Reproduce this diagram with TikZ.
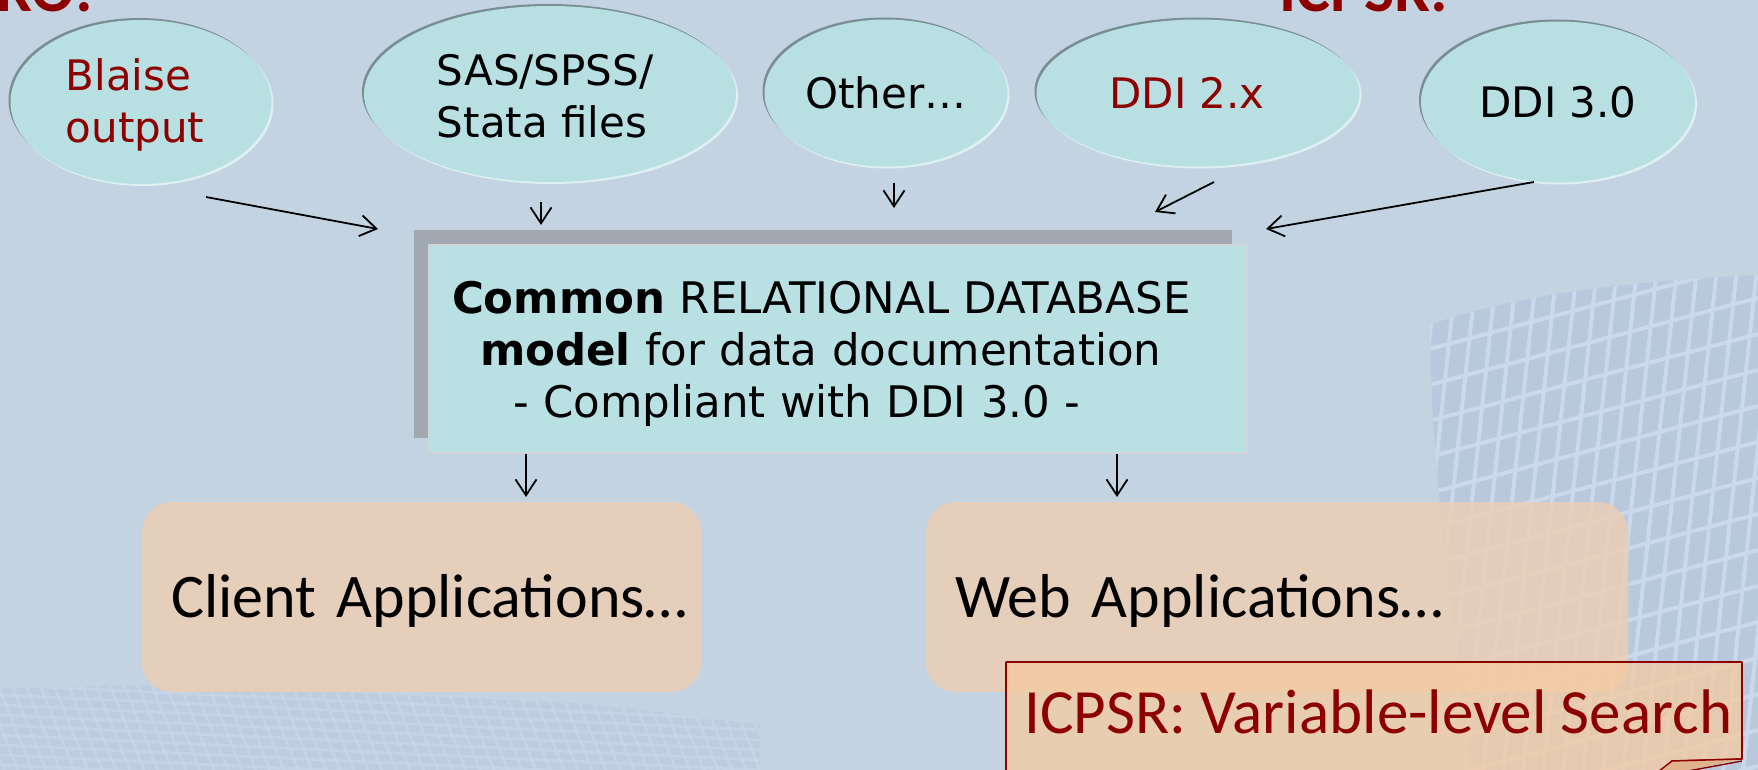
\documentclass[tikz,border=0pt]{standalone}
\usepackage{fontspec}
\newfontfamily\verd{DejaVu Sans}
\newfontfamily\calib{Carlito}
\usetikzlibrary{shapes.geometric,arrows.meta,shadows,calc}
\definecolor{bgblue}{RGB}{196,211,226}
\definecolor{meshdark}{RGB}{184,200,221}
\definecolor{meshline}{RGB}{203,217,234}
\definecolor{bubblefill}{RGB}{184,224,227}
\definecolor{edgedark}{RGB}{120,142,148}
\definecolor{edgelight}{RGB}{222,240,242}
\definecolor{boxcyan}{RGB}{185,224,227}
\definecolor{boxedge}{RGB}{208,214,216}
\definecolor{shadowgray}{RGB}{162,168,176}
\definecolor{peach}{RGB}{235,206,180}
\definecolor{calloutfill}{RGB}{246,203,160}
\definecolor{flapfill}{RGB}{226,178,140}
\definecolor{darkred}{RGB}{140,0,0}
\tikzset{
  bubble/.style={ellipse, fill=bubblefill, inner sep=0pt, align=left,
    font=\verd\fontsize{42}{52}\selectfont,
    drop shadow={shadow xshift=-2pt, shadow yshift=2pt, fill=edgedark, opacity=1},
    drop shadow={shadow xshift=2pt, shadow yshift=-2pt, fill=edgelight, opacity=1}},
  dbbox/.style={rectangle, fill=boxcyan, draw=boxedge, line width=1.5pt,
    minimum width=818pt, minimum height=208pt, inner xsep=23pt, inner ysep=0pt,
    text width=772pt, align=left, font=\verd\fontsize{43.5}{52}\selectfont,
    drop shadow={shadow xshift=-15pt, shadow yshift=15pt, fill=shadowgray, opacity=1}},
  appbox/.style={rectangle, rounded corners=30pt, fill=peach, fill opacity=0.85,
    text opacity=1, inner xsep=0pt, inner ysep=0pt, minimum height=190pt,
    text height=50pt, text depth=10pt,
    align=left, font=\calib\fontsize{62}{70}\selectfont},
  arr/.style={-{Straight Barb[length=16pt,width=21pt]}, line width=1.8pt, black},
  title/.style={font=\calib\bfseries\fontsize{64}{70}\selectfont, text=darkred, inner sep=0pt}
}
\begin{document}
\begin{tikzpicture}[x=1pt,y=-1pt]
\useasboundingbox (0,0) rectangle (1758,770);
\clip (0,0) rectangle (1758,770);
\fill[bgblue] (0,0) rectangle (1758,770);
% background mesh, right
\begin{scope}
  \clip (1430,325) .. controls (1520,292) and (1650,280) .. (1758,275) -- (1758,770) -- (1470,770) .. controls (1450,600) and (1430,450) .. cycle;
  \fill[meshdark] (1350,250) rectangle (1758,770);
  \foreach \i in {0,...,22} \draw[meshline, line width=4pt] ({1380+20*\i},800) -- ({1440+20*\i},240);
  \foreach \j in {0,...,20} \draw[meshline, line width=4pt] (1380,{290+36*\j}) -- (1758,{190+36*\j});
\end{scope}
% background mesh, bottom left
\begin{scope}
  \clip (0,688) .. controls (250,680) and (520,690) .. (760,725) -- (760,770) -- (0,770) -- cycle;
  \begin{scope}[opacity=0.55]
  \fill[meshdark] (0,670) rectangle (760,770);
  \foreach \i in {0,...,60} \draw[meshline, line width=3pt] ({-60+14*\i},680) -- ({-20+14*\i},780);
  \foreach \j in {0,...,12} \draw[meshline, line width=3pt] (0,{665+10*\j}) -- (760,{700+10*\j});
  \end{scope}
\end{scope}
% titles (cut off at the top)
\node[title, anchor=base east] (ro) at (93,12) {RO:};
\node[title, anchor=base west] (icpsrt) at (1279,12) {ICPSR:};
% source bubbles
\node[bubble, minimum width=261pt, minimum height=164pt, text=darkred] (blaise) at (141,102) {\rule{0pt}{38pt}Blaise\\output\rule{12pt}{0pt}};
\node[bubble, minimum width=372pt, minimum height=176pt] (sas) at (550,94) {\rule{0pt}{36pt}SAS/SPSS/\\Stata files\rule{16pt}{0pt}};
\node[bubble, minimum width=243pt, minimum height=147pt] (other) at (886,93) {Other…};
\node[bubble, minimum width=323pt, minimum height=147pt, text=darkred] (ddi2) at (1198,93) {DDI 2.x\rule{22pt}{0pt}};
\node[bubble, minimum width=274pt, minimum height=161pt] (ddi3) at (1558,102) {DDI 3.0};
% central database box
\node[dbbox] (db) at (838,349) {\rule{0pt}{42pt}\textbf{Common} RELATIONAL DATABASE\\\hspace*{28pt}\textbf{model} for data documentation\\\hspace*{61pt}- Compliant with DDI 3.0 -};
% application boxes
\node[appbox, minimum width=559pt, text width=559pt] (client) at (421.5,597) {\noindent\hspace*{29pt}Client Applications…};
\node[appbox, minimum width=702pt, text width=702pt] (web) at (1277,597) {\noindent\hspace*{29pt}Web Applications…};
% callout with folded corner
\fill[calloutfill, opacity=0.75] (1006,662) -- (1742,662) -- (1742,759) -- (1672,761) -- (1652,780) -- (1006,780) -- cycle;
\draw[darkred, line width=1.6pt, line join=round] (1006,780) -- (1006,662) -- (1742,662) -- (1742,759) -- (1672,761) -- (1652,780);
\fill[flapfill] (1742,759) -- (1672,761) -- (1650,778) -- cycle;
\draw[darkred, line width=1.4pt, line join=round] (1742,759) -- (1672,761) -- (1650,778) -- (1742,761);
\node[anchor=base west, inner sep=0pt, text=darkred, font=\calib\fontsize{63}{70}\selectfont] (search) at (1024,733) {ICPSR: Variable-level Search};
% connector end points
\coordinate (a1s) at (206,197); \coordinate (a1e) at (378,229);
\coordinate (a2s) at (541,202); \coordinate (a2e) at (541,225);
\coordinate (a3s) at (894,183); \coordinate (a3e) at (894,208);
\coordinate (a4s) at (1214,182); \coordinate (a4e) at (1155,212);
\coordinate (a5s) at (1534,182); \coordinate (a5e) at (1266,229);
\coordinate (c1) at (526,497);
\coordinate (c2) at (1117,497);
\draw[arr] (a1s) -- (a1e);
\draw[arr] (a2s) -- (a2e);
\draw[arr] (a3s) -- (a3e);
\draw[arr] (a4s) -- (a4e);
\draw[arr] (a5s) -- (a5e);
\draw[arr] (db.south -| c1) -- (c1);
\draw[arr] (db.south -| c2) -- (c2);
\end{tikzpicture}
\end{document}
